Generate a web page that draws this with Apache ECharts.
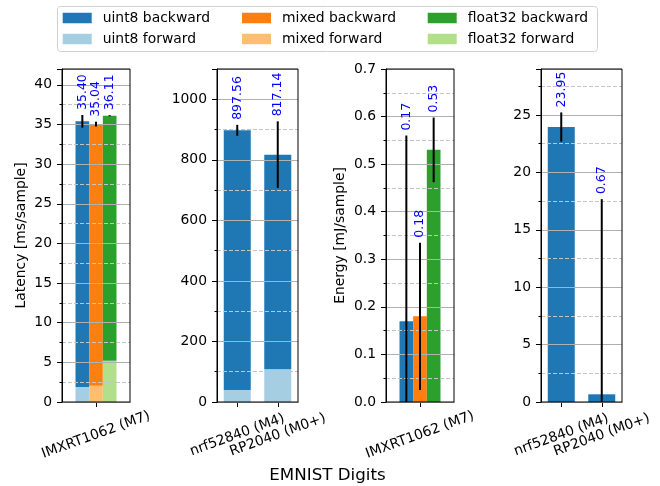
<!DOCTYPE html>
<html>
<head>
<meta charset="utf-8">
<script src="https://cdn.jsdelivr.net/npm/echarts@6/dist/echarts.min.js"></script>
<style>
  html, body { margin: 0; padding: 0; background: #fff; }
  #chart { width: 660px; height: 486px; }
</style>
</head>
<body>
<div id="chart"></div>
<script>
  // data
  const precisions = ['uint8', 'mixed', 'float32']

  const m7Categories = ['IMXRT1062 (M7)']
  const m7Latency = [35.40, 35.04, 36.11]
  const m7LatencyForward = [1.9, 2.05, 5.2]
  const m7LatencyErr = [0.8, 0.3, 0.07]
  const m7Energy = [0.17, 0.18, 0.53]
  const m7EnergyErr = [0.39, 0.155, 0.068]

  const mcuCategories = ['nrf52840 (M4)', 'RP2040 (M0+)']
  const mcuLatency = [897.56, 817.14]
  const mcuLatencyForward = [40, 108]
  const mcuLatencyErr = [18, 110]
  const mcuEnergy = [23.95, 0.67]
  const mcuEnergyErr = [1.27, 17.0]

  const yMax = [42, 1100, 0.7, 29]
  const yInterval = [5, 200, 0.1, 5]

  const backColor = { uint8: '#1f77b4', mixed: '#ff7f0e', float32: '#2ca02c' }
  const foreColor = { uint8: '#a6cee3', mixed: '#fdbf6f', float32: '#b2df8a' }

  const FONT = 'DejaVu Sans'
  const grids = [
    { left: 62, width: 68 },
    { left: 217, width: 81 },
    { left: 386, width: 68 },
    { left: 541, width: 81 },
  ]
  const narrowBar = 13.66
  const wideBar = 27

  const myChart = echarts.init(document.getElementById('chart'), null, { renderer: 'canvas' })

  // error bar + value label, placed from the axis scales
  const errorSeries = (idx, items, barW) => ({
    type: 'custom',
    xAxisIndex: idx,
    yAxisIndex: idx,
    z: 5,
    encode: { x: 0, y: 1 },
    data: items,
    renderItem: (params, api) => {
      const cat = api.value(0)
      const v = api.value(1)
      const e = api.value(2)
      const slot = api.value(3)
      const nSlots = api.value(4)
      const dx = (slot - (nSlots - 1) / 2) * barW
      const top = api.coord([cat, v + e])
      const bot = api.coord([cat, Math.max(0, v - e)])
      const x = top[0] + dx
      return {
        type: 'group',
        children: [
          {
            type: 'line',
            shape: { x1: x, y1: top[1], x2: x, y2: bot[1] },
            style: { stroke: '#000', lineWidth: 2 },
          },
          {
            type: 'text',
            x: x,
            y: top[1] - 5,
            rotation: Math.PI / 2,
            style: {
              text: v.toFixed(2),
              fill: 'blue',
              fontSize: 12.5,
              fontFamily: FONT,
              align: 'left',
              verticalAlign: 'middle',
            },
          },
        ],
      }
    },
  })

  const series = []
  // panel 1: latency on the M7, stacked forward + backward
  precisions.forEach((p, i) => {
    series.push({
      name: p + ' forward', type: 'bar', xAxisIndex: 0, yAxisIndex: 0, stack: 'lat-' + p,
      barWidth: narrowBar, barGap: '0%', z: 2,
      itemStyle: { color: foreColor[p] },
      data: [m7LatencyForward[i]],
    })
    series.push({
      name: p + ' backward', type: 'bar', xAxisIndex: 0, yAxisIndex: 0, stack: 'lat-' + p,
      barWidth: narrowBar, barGap: '0%', z: 2,
      itemStyle: { color: backColor[p] },
      data: [m7Latency[i] - m7LatencyForward[i]],
    })
  })
  series.push(errorSeries(0, precisions.map((p, i) => [0, m7Latency[i], m7LatencyErr[i], i, 3]), narrowBar))

  // panel 2: latency on the smaller MCUs (uint8 only)
  series.push({
    name: 'uint8 forward', type: 'bar', xAxisIndex: 1, yAxisIndex: 1, stack: 'mcu',
    barWidth: wideBar, z: 2,
    itemStyle: { color: foreColor.uint8 },
    data: mcuLatencyForward,
  })
  series.push({
    name: 'uint8 backward', type: 'bar', xAxisIndex: 1, yAxisIndex: 1, stack: 'mcu',
    barWidth: wideBar, z: 2,
    itemStyle: { color: backColor.uint8 },
    data: mcuLatency.map((v, i) => v - mcuLatencyForward[i]),
  })
  series.push(errorSeries(1, mcuCategories.map((c, i) => [i, mcuLatency[i], mcuLatencyErr[i], 0, 1]), wideBar))

  // panel 3: energy on the M7
  precisions.forEach((p, i) => {
    series.push({
      name: p + ' backward', type: 'bar', xAxisIndex: 2, yAxisIndex: 2,
      barWidth: narrowBar, barGap: '0%', z: 2,
      itemStyle: { color: backColor[p] },
      data: [m7Energy[i]],
    })
  })
  series.push(errorSeries(2, precisions.map((p, i) => [0, m7Energy[i], m7EnergyErr[i], i, 3]), narrowBar))

  // panel 4: energy on the smaller MCUs
  series.push({
    name: 'uint8 backward', type: 'bar', xAxisIndex: 3, yAxisIndex: 3,
    barWidth: wideBar, z: 2,
    itemStyle: { color: backColor.uint8 },
    data: mcuEnergy,
  })
  series.push(errorSeries(3, mcuCategories.map((c, i) => [i, mcuEnergy[i], mcuEnergyErr[i], 0, 1]), wideBar))

  const categories = [m7Categories, mcuCategories, m7Categories, mcuCategories]
  const yNames = ['Latency [ms/sample]', '', 'Energy [mJ/sample]', '']
  const legendLeft = [62.7, 242, 427.7]

  const option = {
    animation: false,
    textStyle: { fontFamily: FONT },
    legend: precisions.map((p, i) => ({
      orient: 'vertical',
      left: legendLeft[i],
      top: 11,
      padding: 0,
      itemWidth: 29,
      itemHeight: 10.5,
      itemGap: 7,
      icon: 'rect',
      selectedMode: false,
      data: [p + ' backward', p + ' forward'],
      textStyle: { fontSize: 13.9, color: '#000', fontFamily: FONT, lineHeight: 14, padding: [0, 0, 0, 6] },
    })),
    grid: grids.map(g => ({
      left: g.left, width: g.width, top: 69, height: 333, z: 4,
      show: true, borderColor: '#000', borderWidth: 1, backgroundColor: 'transparent',
    })),
    xAxis: grids.map((g, i) => ({
      type: 'category',
      gridIndex: i,
      data: categories[i],
      axisLine: { show: true, lineStyle: { color: '#000' } },
      axisTick: { show: true, alignWithLabel: true, length: 5, lineStyle: { color: '#000' } },
      axisLabel: {
        interval: 0, rotate: 20, align: 'center', verticalAlign: 'middle', margin: 33,
        fontSize: 13.9, color: '#000', fontFamily: FONT,
      },
      splitLine: { show: false },
    })),
    yAxis: grids.map((g, i) => ({
      type: 'value',
      gridIndex: i,
      min: 0,
      max: yMax[i],
      interval: yInterval[i],
      z: 3,
      name: yNames[i],
      nameLocation: 'middle',
      nameGap: i === 0 ? 34 : 39,
      nameRotate: 90,
      nameTextStyle: { fontSize: 13.9, color: '#000', fontFamily: FONT },
      axisLine: { show: true, lineStyle: { color: '#000' } },
      axisTick: { show: true, length: 5, lineStyle: { color: '#000' } },
      minorTick: { show: true, splitNumber: 2, length: 2.5, lineStyle: { color: '#000' } },
      axisLabel: {
        margin: 10, fontSize: 13.9, color: '#000', fontFamily: FONT,
        showMaxLabel: i === 2,
        formatter: i === 2 ? v => v.toFixed(1) : v => String(v),
      },
      splitLine: { show: true, lineStyle: { color: '#b0b0b0', width: 1 } },
      minorSplitLine: { show: true, lineStyle: { color: '#c4c4c4', width: 1, type: [4, 2] } },
    })),
    graphic: [
      {
        type: 'rect', z: -1,
        shape: { x: 57.5, y: 6.5, width: 540, height: 45, r: 3 },
        style: { fill: '#fff', stroke: '#d0d0d0', lineWidth: 1 },
      },
      {
        type: 'text', x: 327.5, y: 476,
        style: { text: 'EMNIST Digits', fontSize: 16.7, fill: '#000', fontFamily: FONT, align: 'center', verticalAlign: 'middle' },
      },
    ],
    series: series,
  }

  option && myChart.setOption(option)
</script>
</body>
</html>
